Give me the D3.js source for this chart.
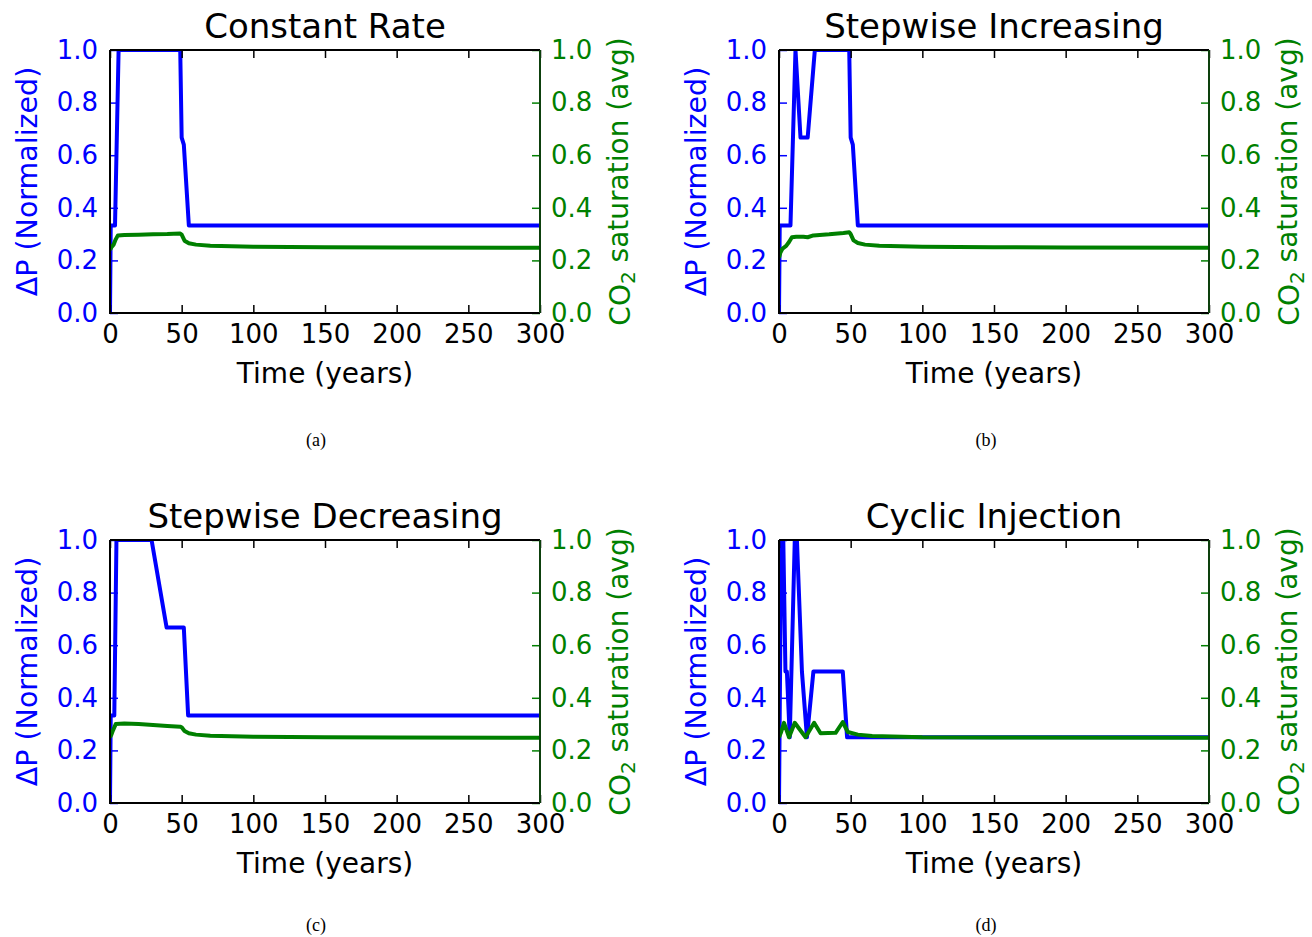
<!DOCTYPE html>
<html>
<head>
<meta charset="utf-8">
<script src="https://cdn.jsdelivr.net/npm/d3@7"></script>
<style>
  body { margin: 0; background: #fff; }
  svg text { font-family: "DejaVu Sans", sans-serif; }
</style>
</head>
<body>
<script>
// titles / captions / ticks
var titles = ["Constant Rate", "Stepwise Increasing", "Stepwise Decreasing", "Cyclic Injection"];
var captions = ["(a)", "(b)", "(c)", "(d)"];
var timeTicks = [0, 50, 100, 150, 200, 250, 300];
var valueTicks = [0.0, 0.2, 0.4, 0.6, 0.8, 1.0];

// [time (years), dP normalized]
var dpConstant = [[0,0],[0.5,0.333],[3.5,0.333],[6,1],[49,1],[50,0.667],[51.5,0.64],[55,0.333],[300,0.333]];
var dpIncreasing = [[0,0],[0.5,0.333],[8,0.333],[11.5,1],[15,0.667],[20,0.667],[25,1],[49,1],[50,0.667],[51.5,0.64],[55,0.333],[300,0.333]];
var dpDecreasing = [[0,0],[0.5,0.333],[3,0.333],[4.5,1],[29,1],[39.5,0.667],[51.5,0.667],[54.5,0.333],[300,0.333]];
var dpCyclic = [[0,0],[1.5,1],[3,1],[4.5,0.5],[5.5,0.5],[7.5,0.25],[11,1],[12.5,1],[16,0.5],[19.5,0.25],[24,0.5],[44.5,0.5],[47.5,0.25],[300,0.25]];

// [time (years), CO2 saturation avg]
var satConstant = [[0,0.24],[1,0.25],[2.5,0.26],[4,0.28],[5.5,0.295],[10,0.297],[20,0.298],[30,0.299],[40,0.3],[49,0.302],[50,0.298],[52,0.275],[55,0.265],[60,0.26],[70,0.256],[85,0.254],[100,0.252],[150,0.25],[200,0.249],[300,0.248]];
var satIncreasing = [[0,0.21],[1,0.23],[2.5,0.245],[5,0.255],[7,0.27],[9,0.288],[12,0.29],[17,0.29],[20,0.288],[24,0.295],[35,0.299],[45,0.304],[49,0.307],[50,0.3],[52,0.276],[55,0.266],[60,0.26],[70,0.256],[100,0.252],[150,0.25],[200,0.249],[300,0.248]];
var satDecreasing = [[0,0.25],[1,0.26],[2,0.275],[4,0.3],[10,0.302],[20,0.3],[30,0.297],[40,0.293],[49,0.29],[50,0.288],[52,0.274],[55,0.265],[60,0.26],[70,0.256],[100,0.252],[150,0.25],[200,0.249],[300,0.248]];
var satCyclic = [[0,0.25],[1.5,0.27],[3.5,0.305],[7,0.25],[11,0.305],[18.5,0.25],[24.5,0.305],[29,0.265],[39.5,0.267],[44.5,0.308],[48,0.27],[55,0.26],[65,0.255],[100,0.25],[150,0.249],[300,0.248]];

var dpSeries = [dpConstant, dpIncreasing, dpDecreasing, dpCyclic];
var satSeries = [satConstant, satIncreasing, satDecreasing, satCyclic];

// layout
var W = 1312, H = 937;
var pw = 430, ph = 263;
var origins = [[110, 50], [779, 50], [110, 540], [779, 540]];
var captionX = [316, 986, 316, 986];
var captionY = [446, 446, 931, 931];

var blue = "#0000ff", green = "#008000";

var svg = d3.select("body").append("svg")
    .attr("width", W)
    .attr("height", H);

var x = d3.scaleLinear().domain([0, 300]).range([0, pw]);
var y = d3.scaleLinear().domain([0, 1]).range([ph, 0]);

var line = d3.line()
    .x(d => x(d[0]))
    .y(d => y(d[1]));

titles.forEach(function(title, i) {
  var g = svg.append("g")
      .attr("transform", "translate(" + origins[i][0] + "," + origins[i][1] + ")");

  g.append("clipPath").attr("id", "clip" + i)
    .append("rect").attr("width", pw).attr("height", ph);

  // lines (blue first, twin axis green on top)
  g.append("path")
      .datum(dpSeries[i])
      .attr("clip-path", "url(#clip" + i + ")")
      .attr("fill", "none")
      .attr("stroke", blue)
      .attr("stroke-width", 4)
      .attr("stroke-linejoin", "round")
      .attr("d", line);

  g.append("path")
      .datum(satSeries[i])
      .attr("clip-path", "url(#clip" + i + ")")
      .attr("fill", "none")
      .attr("stroke", green)
      .attr("stroke-width", 4)
      .attr("stroke-linejoin", "round")
      .attr("d", line);

  // x axis bottom + top ticks
  var xb = g.append("g")
      .attr("transform", "translate(0," + ph + ")")
      .call(d3.axisBottom(x).tickValues(timeTicks).tickSize(-8).tickPadding(12).tickFormat(d3.format("d")));
  var xt = g.append("g")
      .call(d3.axisTop(x).tickValues(timeTicks).tickSize(-8).tickFormat(""));

  // left axis (blue)
  var yl = g.append("g")
      .call(d3.axisLeft(y).tickValues(valueTicks).tickSize(-8).tickPadding(12).tickFormat(d3.format(".1f")));
  // right axis (green)
  var yr = g.append("g")
      .attr("transform", "translate(" + pw + ",0)")
      .call(d3.axisRight(y).tickValues(valueTicks).tickSize(-8).tickPadding(11).tickFormat(d3.format(".1f")));

  [xb, xt, yl, yr].forEach(function(a) {
    a.select(".domain").remove();
    a.selectAll("text").style("font-size", "26px").attr("font-family", null);
    a.selectAll("line").attr("stroke-width", 1.5);
  });
  xb.selectAll("text").attr("fill", "#000");
  xb.selectAll("line").attr("stroke", "#000");
  xt.selectAll("line").attr("stroke", "#000");
  yl.selectAll("text").attr("fill", blue);
  yl.selectAll("line").attr("stroke", blue);
  yr.selectAll("text").attr("fill", green);
  yr.selectAll("line").attr("stroke", green);

  // frame
  g.append("path")
      .attr("d", "M0,0H" + pw + "M0,0V" + ph + "H" + pw)
      .attr("fill", "none").attr("stroke", "#000").attr("stroke-width", 2);
  g.append("line")
      .attr("x1", pw).attr("x2", pw).attr("y1", 0).attr("y2", ph)
      .attr("stroke", "#0d400d").attr("stroke-width", 2);

  // title
  g.append("text")
      .attr("x", pw / 2).attr("y", -12)
      .attr("text-anchor", "middle")
      .style("font-size", "34px")
      .text(title);

  // x label
  g.append("text")
      .attr("x", pw / 2).attr("y", ph + 70)
      .attr("text-anchor", "middle")
      .style("font-size", "28px")
      .text("Time (years)");

  // left label
  g.append("text")
      .attr("transform", "translate(-83," + (ph / 2) + ") rotate(-90)")
      .attr("dy", "0.36em")
      .attr("text-anchor", "middle")
      .attr("fill", blue)
      .style("font-size", "28.5px")
      .text("\u0394P (Normalized)");

  // right label
  var rl = g.append("text")
      .attr("transform", "translate(" + (pw + 80) + "," + (ph / 2) + ") rotate(-90)")
      .attr("dy", "0.36em")
      .attr("text-anchor", "middle")
      .attr("fill", green)
      .style("font-size", "28px");
  rl.append("tspan").text("CO");
  rl.append("tspan").attr("dy", "0.25em").style("font-size", "20px").text("2");
  rl.append("tspan").attr("dy", "-0.25em").text(" saturation (avg)");

  // caption
  svg.append("text")
      .attr("x", captionX[i]).attr("y", captionY[i])
      .attr("text-anchor", "middle")
      .style("font-family", "'Liberation Serif', 'Times New Roman', serif")
      .style("font-size", "18px")
      .text(captions[i]);
});
</script>
</body>
</html>
